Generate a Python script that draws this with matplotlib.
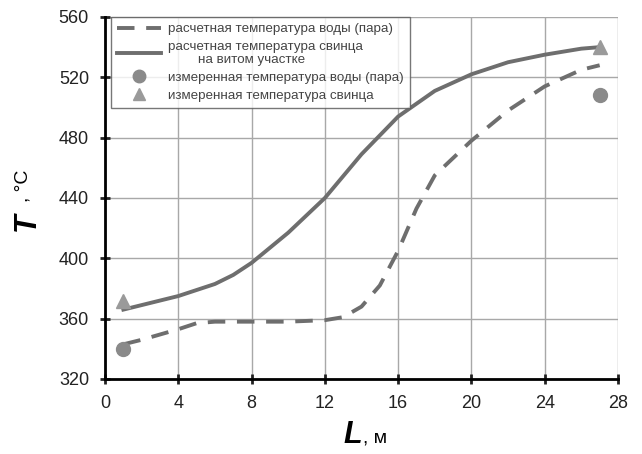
import matplotlib.pyplot as plt
from matplotlib.lines import Line2D

plt.rcParams['font.family'] = ['Liberation Sans', 'DejaVu Sans']

# расчетная температура свинца
lead_x = [1, 2, 4, 6, 7, 8, 10, 12, 14, 16, 18, 20, 22, 24, 26, 27]
lead_t = [366, 369, 375, 383, 389, 397, 417, 440, 469, 494, 511, 522, 530, 535, 539, 540]

# расчетная температура воды (пара)
water_x = [1, 2, 4, 5, 6, 8, 10, 12, 13, 14, 15, 16, 17, 18, 20, 22, 24, 26, 27]
water_t = [343, 346, 353, 357, 358, 358, 358, 359, 361, 368, 382, 405, 433, 455, 478, 498, 514, 525, 528]

# измерения
meas_x = [1, 27]
meas_water = [340, 508]
meas_lead = [372, 540]

xticks = [0, 4, 8, 12, 16, 20, 24, 28]
yticks = [320, 360, 400, 440, 480, 520, 560]

fig = plt.figure(figsize=(6.42, 4.54), dpi=100)
ax = fig.add_axes([0.1636, 0.1652, 0.799, 0.7974])

line_col = '#6e6e6e'
dash = (0, (4.5, 3))
ax.plot(water_x, water_t, color=line_col, lw=2.8, ls=dash, zorder=3)
ax.plot(lead_x, lead_t, color=line_col, lw=2.8, zorder=3)
ax.plot(meas_x, meas_water, 'o', color='#8a8a8a', ms=10, zorder=4)
ax.plot(meas_x, meas_lead, '^', color='#9a9a9a', ms=10, zorder=4)

ax.set_xlim(0, 28)
ax.set_ylim(320, 560)
ax.set_xticks(xticks)
ax.set_yticks(yticks)
ax.grid(True, color='#a8a8a8', lw=1)
ax.set_axisbelow(True)
for s in ['top', 'right']:
    ax.spines[s].set_visible(False)
for s in ['left', 'bottom']:
    ax.spines[s].set_linewidth(2)
ax.tick_params(direction='inout', length=7, width=2, labelsize=13, pad=8, colors='#222222')

fig.text(0.5636, 0.025, 'L', fontsize=22, fontweight='bold', style='italic', ha='right')
fig.text(0.5656, 0.025, ', м', fontsize=14, ha='left')
fig.text(0.018, 0.511, 'T', fontsize=22, fontweight='bold', style='italic', rotation=90, va='center')
fig.text(0.022, 0.59, ', °C', fontsize=14, rotation=90, va='center')

handles = [
    Line2D([], [], color=line_col, lw=2.8, ls=dash),
    Line2D([], [], color=line_col, lw=2.8),
    Line2D([], [], ls='', marker='o', color='#8a8a8a', ms=9),
    Line2D([], [], ls='', marker='^', color='#9a9a9a', ms=9),
]
labels = [
    'расчетная температура воды (пара)',
    'расчетная температура свинца\n        на витом участке',
    'измеренная температура воды (пара)',
    'измеренная температура свинца',
]
leg = ax.legend(handles, labels, loc='upper left', bbox_to_anchor=(0.012, 1.0),
                fontsize=9.6, frameon=True, fancybox=False, edgecolor='#555555',
                handlelength=3.3, handletextpad=0.5, labelspacing=0.4,
                borderpad=0.45, borderaxespad=0)
leg.get_frame().set_linewidth(1)
for t in leg.get_texts():
    t.set_color('#444444')

fig.savefig('out.png', dpi=100)
